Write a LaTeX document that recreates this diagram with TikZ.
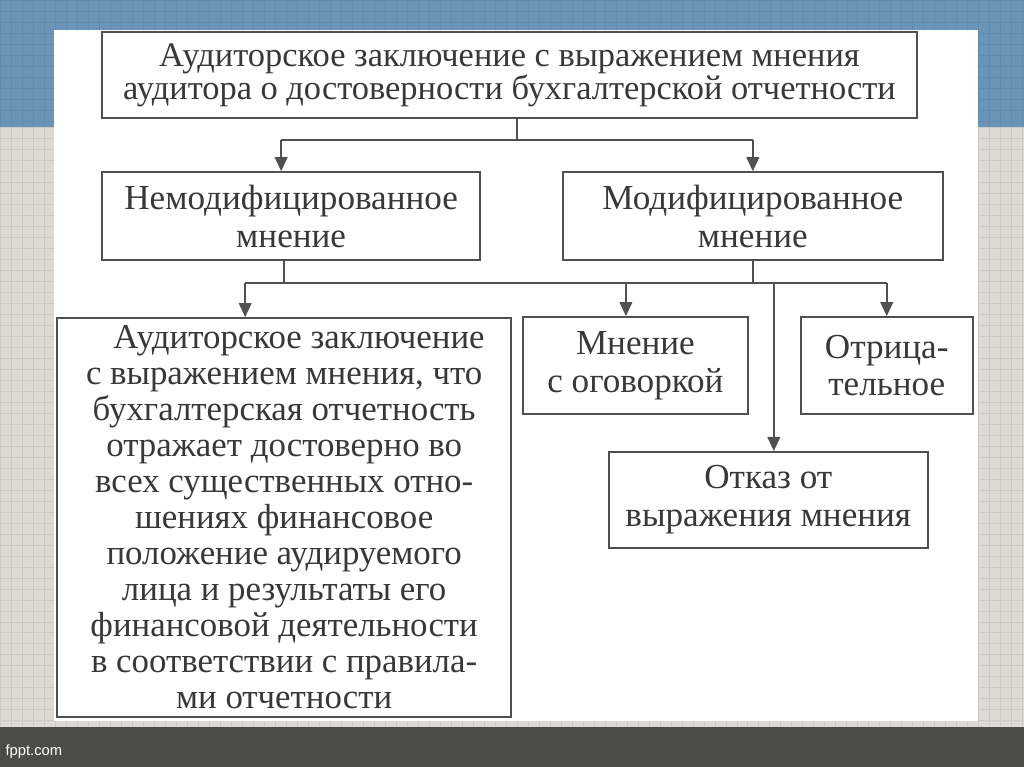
\documentclass[tikz,border=0pt]{standalone}
\usepackage{fontspec}
\setmainfont{Liberation Serif}
\setsansfont{Liberation Sans}
\usetikzlibrary{arrows.meta,positioning,calc}

\definecolor{slideblue}{HTML}{6B94B9}
\definecolor{slidebluegrid}{HTML}{628AAE}
\definecolor{paper}{HTML}{DCDAD2}
\definecolor{papergrid}{HTML}{CBC9C0}
\definecolor{footbar}{HTML}{4B4B47}
\definecolor{boxline}{HTML}{505050}
\definecolor{boxtext}{HTML}{383838}

\tikzset{
  opbox/.style={draw=boxline, line width=1.3pt, text=boxtext, align=center,
    inner sep=0pt, font=\fontsize{25}{27}\selectfont},
  link/.style={draw=boxline, line width=1.3pt},
  linkarr/.style={link, -{Triangle[width=9pt,length=10pt]}}
}

\begin{document}
\begin{tikzpicture}[x=0.025cm,y=-0.025cm]
% slide background
\fill[paper] (0,0) rectangle (1024,767);
\foreach \gx in {0,11,...,1024}
  \draw[papergrid,line width=0.5pt] (\gx,127) -- (\gx,727);
\foreach \gy in {127,138,...,727}
  \draw[papergrid,line width=0.5pt] (0,\gy) -- (1024,\gy);
\fill[slideblue] (0,0) rectangle (1024,127);
\foreach \gx in {0,11,...,1024}
  \draw[slidebluegrid,line width=0.4pt] (\gx,0) -- (\gx,127);
\foreach \gy in {0,11,...,121}
  \draw[slidebluegrid,line width=0.4pt] (0,\gy) -- (1024,\gy);
\fill[footbar] (0,727) rectangle (1024,767);
\node[anchor=west,text=white,font=\sffamily\fontsize{10.5}{12}\selectfont,inner sep=0pt] (brand) at (5,752) {fppt.com};
\fill[white] (54,30) rectangle (978,721);

% boxes
\node[opbox, minimum width=20.375cm, minimum height=2.15cm,
  font=\fontsize{24.5}{23.5}\selectfont] (report) at (509.5,75)
  {Аудиторское заключение с выражением мнения\\аудитора о достоверности бухгалтерской отчетности};
\node[opbox, minimum width=9.45cm, minimum height=2.2cm] (unmod) at (291,216)
  {Немодифицированное\\мнение};
\node[opbox, minimum width=9.5cm, minimum height=2.2cm] (mod) at (753,216)
  {Модифицированное\\мнение};
\node[opbox, minimum width=11.35cm, minimum height=9.975cm,
  font=\fontsize{24.8}{25.6}\selectfont] (clean) at (284,517.5)
  {\hspace*{0.85em}Аудиторское заключение\\с выражением мнения, что\\бухгалтерская отчетность\\отражает достоверно во\\всех существенных отно-\\шениях финансовое\\положение аудируемого\\лица и результаты его\\финансовой деятельности\\в соответствии с правила-\\ми отчетности};
\node[opbox, minimum width=5.625cm, minimum height=2.425cm] (qualified) at (635.5,365.5)
  {Мнение\\с оговоркой};
\node[opbox, minimum width=4.3cm, minimum height=2.425cm] (adverse) at (887,365.5)
  {Отрица-\\тельное};
\node[opbox, minimum width=7.975cm, minimum height=2.4cm] (disclaim) at (768.5,500)
  {Отказ от\\выражения мнения};

% first level
\coordinate (top) at (517,140);
\coordinate (topl) at (281,140);
\coordinate (topr) at (753,140);
\draw[link] (report.south -| top) -- (top);
\draw[link] (topl) -- (topr);
\draw[linkarr] (topl) -- (topl |- unmod.north);
\draw[linkarr] (topr) -- (topr |- mod.north);

% second level
\coordinate (busa) at (284,283);
\coordinate (busb) at (753,283);
\coordinate (busl) at (245,283);
\coordinate (busq) at (626,283);
\coordinate (busd) at (774,283);
\coordinate (busr) at (887,283);
\draw[link] (unmod.south -| busa) -- (busa);
\draw[link] (mod.south -| busb) -- (busb);
\draw[link] (busl) -- (busr);
\draw[linkarr] (busl) -- (busl |- clean.north);
\draw[linkarr] (busq) -- (busq |- qualified.north);
\draw[linkarr] (busr) -- (busr |- adverse.north);
\draw[linkarr] (busd) -- (busd |- disclaim.north);
\end{tikzpicture}
\end{document}
